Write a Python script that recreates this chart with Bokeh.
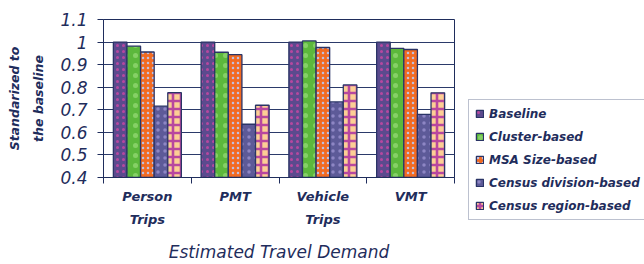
from bokeh.plotting import figure
from bokeh.layouts import row
from bokeh.models import ColumnDataSource, FixedTicker, Legend, LegendItem, Range1d
from bokeh.embed import file_html
from bokeh.resources import INLINE

categories = ["Person\nTrips", "PMT", "Vehicle\nTrips", "VMT"]
series = ["Baseline", "Cluster-based", "MSA Size-based", "Census division-based", "Census region-based"]
baseline = [1.0, 1.0, 1.0, 1.0]
cluster = [0.982, 0.955, 1.005, 0.972]
msa = [0.956, 0.944, 0.976, 0.967]
division = [0.716, 0.636, 0.735, 0.680]
region = [0.776, 0.720, 0.810, 0.775]
y_ticks = [0.4, 0.5, 0.6, 0.7, 0.8, 0.9, 1.0, 1.1]

values = [baseline, cluster, msa, division, region]
fills = ["#5b4a8e", "#5cb83c", "#f26a21", "#5d5a98", "#fccf94"]
hatch_colors = ["#b8479f", "#86d066", "#c3c0de", "#8e86c4", "#b8479f"]
hatch_patterns = ["dot", "dot", "dot", "dot", "cross"]
hatch_scales = [6, 10, 5, 7, 8]
hatch_weights = [3, 1.2, 2.6, 1.5, 2.6]

NAVY = "#1f2d5c"
FONT = "DejaVu Sans"

p = figure(width=460, height=264, output_backend="svg", toolbar_location=None,
           x_range=Range1d(0, len(categories)), y_range=Range1d(0.4, 1.1),
           min_border_left=103, min_border_right=6, min_border_top=19, min_border_bottom=87)
p.outline_line_color = NAVY
p.outline_line_width = 1
p.background_fill_color = "white"

width = 0.155
offsets = [-0.31, -0.155, 0.0, 0.155, 0.31]
style = []
for k in range(len(series)):
    style.append(dict(fill_color=fills[k], line_color="#2a3466", line_width=1.3,
                      hatch_pattern=hatch_patterns[k], hatch_color=hatch_colors[k],
                      hatch_scale=hatch_scales[k], hatch_weight=hatch_weights[k]))
for k, name in enumerate(series):
    xs = [i + 0.5 + offsets[k] for i in range(len(categories))]
    src = ColumnDataSource(dict(x=xs, top=values[k]))
    p.vbar(x="x", top="top", bottom=0.4, width=width, source=src, **style[k])

# x axis
p.xaxis.ticker = FixedTicker(ticks=[i + 0.5 for i in range(len(categories))],
                             minor_ticks=list(range(len(categories) + 1)))
p.xaxis.major_label_overrides = {i + 0.5: c for i, c in enumerate(categories)}
p.xaxis.major_tick_line_color = None
p.xaxis.minor_tick_out = 6
p.xaxis.minor_tick_in = 0
p.xaxis.minor_tick_line_color = NAVY
p.xaxis.axis_line_color = NAVY
p.xaxis.major_label_text_font = FONT
p.xaxis.major_label_text_font_style = "bold italic"
p.xaxis.major_label_text_font_size = "13px"
p.xaxis.major_label_text_line_height = 1.55
p.xaxis.major_label_text_color = NAVY
p.xaxis.major_label_standoff = 5
p.xaxis.axis_label = "Estimated Travel Demand"
p.xaxis.axis_label_text_font = FONT
p.xaxis.axis_label_text_font_style = "italic"
p.xaxis.axis_label_text_font_size = "17px"
p.xaxis.axis_label_text_color = NAVY
p.xaxis.axis_label_standoff = 12

# y axis
p.yaxis.ticker = FixedTicker(ticks=y_ticks)
p.yaxis.major_label_overrides = {1: "1"}
p.yaxis.minor_tick_line_color = None
p.yaxis.major_tick_out = 6
p.yaxis.major_tick_in = 0
p.yaxis.major_tick_line_color = NAVY
p.yaxis.axis_line_color = NAVY
p.yaxis.major_label_text_font = FONT
p.yaxis.major_label_text_font_style = "italic"
p.yaxis.major_label_text_font_size = "17px"
p.yaxis.major_label_text_color = NAVY
p.yaxis.major_label_standoff = 10
p.yaxis.axis_label = "Standarized to\nthe baseline"
p.yaxis.axis_label_text_font = FONT
p.yaxis.axis_label_text_font_style = "bold italic"
p.yaxis.axis_label_text_font_size = "12.5px"
p.yaxis.axis_label_text_line_height = 1.6
p.yaxis.axis_label_text_color = NAVY
p.yaxis.axis_label_standoff = 11

p.xgrid.grid_line_color = None
p.ygrid.ticker = FixedTicker(ticks=y_ticks)
p.ygrid.grid_line_color = "#2b3a6a"
p.ygrid.grid_line_width = 1

# legend panel (legend sits in a side panel of a blank figure, so it is not clipped)
p2 = figure(width=184, height=264, output_backend="svg", toolbar_location=None,
            x_axis_location=None, y_axis_location=None,
            x_range=Range1d(0, 1), y_range=Range1d(0, 1),
            min_border_left=0, min_border_right=0, min_border_top=19, min_border_bottom=87)
p2.outline_line_color = None
p2.grid.visible = False
items = []
for k, name in enumerate(series):
    r = p2.vbar(x=[-10], top=[-10], bottom=-11, width=0.1, **style[k])
    items.append(LegendItem(label=name, renderers=[r]))

legend = Legend(items=items, location=(8, -43), orientation="vertical",
                label_text_font=FONT, label_text_font_style="bold italic",
                label_text_font_size="12px", label_text_color=NAVY,
                glyph_width=9, glyph_height=9, label_height=15, label_standoff=5,
                spacing=8, padding=6, margin=0,
                border_line_color="#7a84a0", border_line_width=1,
                background_fill_alpha=1)
p2.add_layout(legend, "left")

layout = row(p, p2, spacing=0)
open("out.html", "w").write(file_html(layout, INLINE))
